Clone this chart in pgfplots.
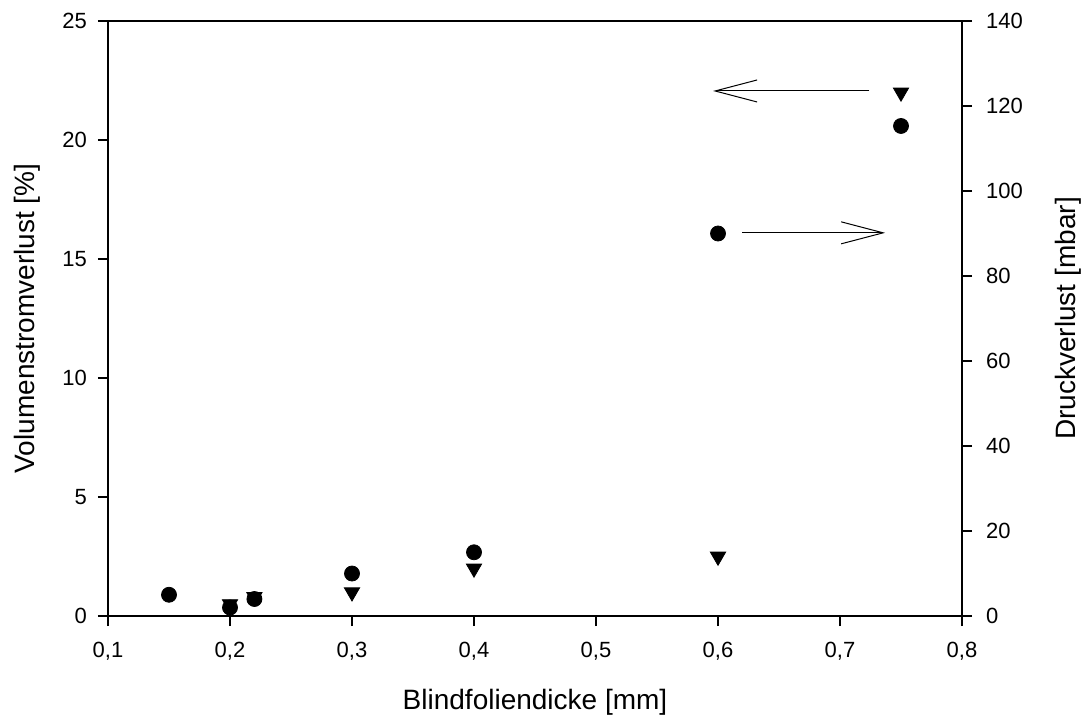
\documentclass[border=0pt]{standalone}
\usepackage{pgfplots}
\pgfplotsset{compat=1.18}
\usepackage{fontspec}
\setmainfont{Liberation Sans}
\usetikzlibrary{arrows.meta,calc}

\pgfplotstableread{
x y
0.2 0.5
0.22 0.8
0.3 1.0
0.4 2.0
0.6 2.5
0.75 22.0
}\volstrom

\pgfplotstableread{
x y
0.15 5
0.2 2
0.22 4
0.3 10
0.4 15
0.6 90
0.75 115.3
}\druck

\begin{document}
\begin{tikzpicture}
\pgfplotsset{
  common/.style={
    scale only axis, width=427pt, height=297.5pt,
    xmin=0.1, xmax=0.8,
    tick align=outside, major tick length=5pt,
    axis line style={line width=0.6pt},
    every tick/.style={black, line width=0.6pt},
    tick label style={font=\fontsize{11}{13}\selectfont},
    label style={font=\fontsize{14}{16}\selectfont},
    /pgf/number format/assume math mode=true,
  }
}
\begin{axis}[common,
  ymin=0, ymax=25,
  xtick={0.1,0.2,0.3,0.4,0.5,0.6,0.7,0.8},
  xticklabels={{0,1},{0,2},{0,3},{0,4},{0,5},{0,6},{0,7},{0,8}},
  ytick={0,5,10,15,20,25},
  tick pos=left,
  xticklabel style={yshift=-4.5pt},
  yticklabel style={xshift=-2pt},
  xlabel={Blindfoliendicke [mm]},
  ylabel={Volumenstromverlust [\%]},
  xlabel style={at={(axis description cs:0.5,-0.145)}, anchor=center},
  ylabel style={at={(axis description cs:-0.095,0.5)}, anchor=center},
]
\addplot[only marks, mark=triangle*, mark size=4.4pt, black,
  every mark/.append style={rotate=180}] table[x=x,y=y] {\volstrom};
\draw[line width=0.5pt, -{Straight Barb[length=21pt,width=11pt,line width=0.5pt]}]
  (axis cs:0.724,22.06) -- (axis cs:0.596,22.06);
\draw[line width=0.5pt, -{Straight Barb[length=21pt,width=11pt,line width=0.5pt]}]
  (axis cs:0.62,16.1) -- (axis cs:0.737,16.1);
\coordinate (SW) at (rel axis cs:0,0);
\coordinate (NE) at (rel axis cs:1,1);
\end{axis}
\begin{axis}[common,
  ymin=0, ymax=140,
  axis y line*=right, axis x line=none,
  ytick={0,20,40,60,80,100,120,140},
  yticklabel style={xshift=3.5pt},
  ylabel={Druckverlust [mbar]},
  ylabel style={at={(axis description cs:1.124,0.5)}, anchor=center},
]
\addplot[only marks, mark=*, mark size=3.75pt, black] table[x=x,y=y] {\druck};
\end{axis}
\pgfresetboundingbox
\path ($(SW)+(-54pt,-51pt)$) rectangle ($(NE)+(61.5pt,10.5pt)$);
\end{tikzpicture}
\end{document}
